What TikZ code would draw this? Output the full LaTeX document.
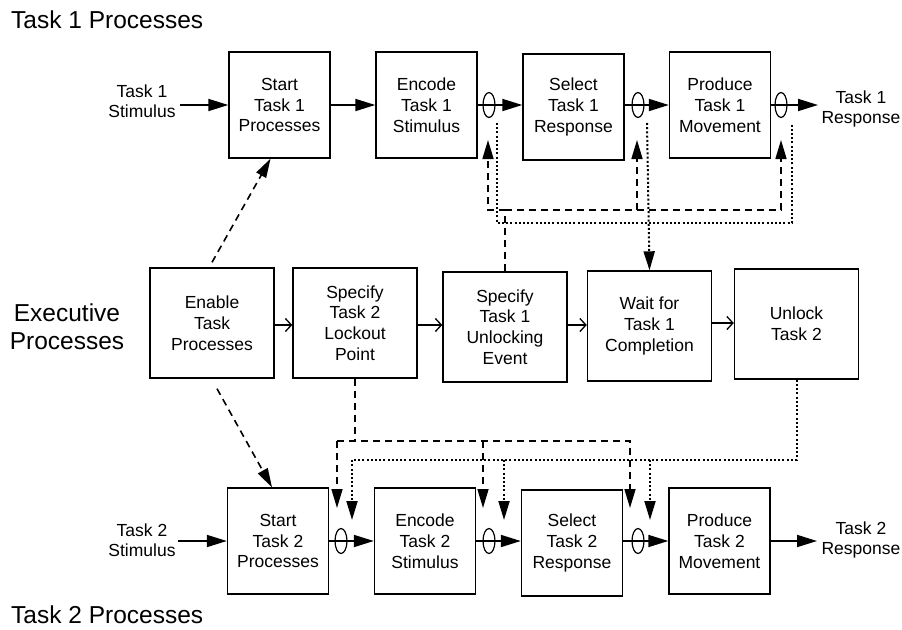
\documentclass[tikz,border=0pt]{standalone}
\usepackage{fontspec}
\setmainfont{Liberation Sans}
\usetikzlibrary{arrows.meta,shapes.geometric}
\begin{document}
\begin{tikzpicture}[x=1pt,y=-1pt,
  box/.style={draw,line width=1.4pt,inner sep=0pt,align=center,font=\fontsize{17.5}{20.8}\selectfont},
  tbox/.style={box,minimum width=101pt,minimum height=106pt},
  mbox/.style={box,minimum width=124pt,minimum height=110pt},
  lbl/.style={align=center,inner sep=0pt,font=\fontsize{17.5}{20.5}\selectfont},
  title/.style={inner sep=0pt,font=\fontsize{24.5}{28}\selectfont},
  latch/.style={draw,ellipse,line width=1.2pt,minimum width=12pt,minimum height=25pt,inner sep=0pt},
  main/.style={line width=1.8pt,-{Triangle[length=20pt,width=12pt]}},
  exe/.style={line width=1.3pt,-{Straight Barb[length=6pt,width=13pt]}},
  dsh/.style={line width=1.6pt,dash pattern=on 7pt off 5pt},
  dot/.style={line width=2pt,dash pattern=on 2pt off 2.2pt},
  tip/.style={-{Triangle[length=19pt,width=11pt]}}
]
\useasboundingbox (0,0) rectangle (902,629);

% titles
\node[title,anchor=base west] (t1) at (11,28) {Task 1 Processes};
\node[title,anchor=base west] (t2) at (11,623) {Task 2 Processes};
\node[title,align=center] (ex) at (67,327) {Executive\\Processes};

% Task 1 row
\node[tbox] (s1) at (279.5,105) {Start\\Task 1\\Processes};
\node[tbox] (e1) at (426.5,105) {Encode\\Task 1\\Stimulus};
\node[tbox] (r1) at (573.5,107) {Select\\Task 1\\Response};
\node[tbox] (p1) at (720,105) {Produce\\Task 1\\Movement};
\node[latch] (l1a) at (489,105) {};
\node[latch] (l1b) at (638,105) {};
\node[latch] (l1c) at (781,105) {};
\node[lbl] (st1) at (142,101) {Task 1\\Stimulus};
\node[lbl] (rs1) at (861,109) {Task 1\\Response};
\coordinate (st1e) at (180,105);
\coordinate (rs1w) at (818,105);

% Executive row
\node[mbox] (en) at (212,323) {Enable\\Task\\Processes};
\node[mbox] (sp2) at (355,323) {Specify\\Task 2\\Lockout\\Point};
\node[mbox] (sp1) at (505,327) {Specify\\Task 1\\Unlocking\\Event};
\node[mbox] (wt) at (649.5,326) {Wait for\\Task 1\\Completion};
\node[mbox] (un) at (796.5,324) {Unlock\\Task 2};

% Task 2 row
\node[tbox] (s2) at (278,541) {Start\\Task 2\\Processes};
\node[tbox] (e2) at (425,541) {Encode\\Task 2\\Stimulus};
\node[tbox] (r2) at (572,543) {Select\\Task 2\\Response};
\node[tbox] (p2) at (719.5,541) {Produce\\Task 2\\Movement};
\node[latch] (l2a) at (341,541) {};
\node[latch] (l2b) at (489,541) {};
\node[latch] (l2c) at (638,541) {};
\node[lbl] (st2) at (142,540) {Task 2\\Stimulus};
\node[lbl] (rs2) at (861,540) {Task 2\\Response};
\coordinate (st2e) at (178,541);
\coordinate (rs2w) at (817,541);

% main arrows task 1
\draw[main] (st1e) -- (s1.west);
\draw[main] (s1.east) -- (e1.west);
\draw[main] (e1.east) -- (e1.east -| r1.west);
\draw[main] (r1.east |- l1b) -- (p1.west);
\draw[main] (p1.east) -- (rs1w);

% main arrows task 2
\draw[main] (st2e) -- (s2.west);
\draw[main] (s2.east) -- (e2.west);
\draw[main] (e2.east) -- (e2.east -| r2.west);
\draw[main] (r2.east |- l2c) -- (p2.west);
\draw[main] (p2.east) -- (rs2w);

% executive arrows
\draw[exe] (en.east |- 0,325) -- (sp2.west |- 0,325);
\draw[exe] (sp2.east |- 0,325) -- (sp1.west |- 0,325);
\draw[exe] (sp1.east |- 0,325) -- (wt.west |- 0,325);
\draw[exe] (wt.east |- 0,323) -- (un.west |- 0,323);

% enable diagonals
\draw[dsh,tip] ([yshift=5pt]en.north) -- ([xshift=-9pt]s1.south);
\draw[dsh,tip] ([xshift=5pt,yshift=-10pt]en.south) -- ([xshift=-6pt]s2.north);

% top dashed bus from Specify Task 1 Unlocking Event
\coordinate (tdL) at (488,210);
\coordinate (tdM) at (637,210);
\coordinate (tdR) at (781,210);
\draw[dsh,tip] (sp1.north) |- (tdL) -- (488,140);
\draw[dsh,tip] (sp1.north |- tdL) -- (tdR) -- (781,140);
\draw[dsh,tip] (tdM) -- (637,140);

% top dotted bus to Wait for Task 1 Completion
\draw[dot] (497,123) |- (792,223) -- (792,123);
\draw[dot,tip] (647,123) -- (wt.north);

% bottom dashed bus from Specify Task 2 Lockout Point
\coordinate (bdL) at (337,441);
\coordinate (bdM) at (483,441);
\coordinate (bdR) at (630,441);
\draw[dsh] (sp2.south) -- (sp2.south |- bdL);
\draw[dsh,tip] (bdL) -- (337,508);
\draw[dsh,tip] (bdL) -- (bdR) -- (630,508);
\draw[dsh,tip] (bdM) -- (483,508);

% bottom dotted bus from Unlock Task 2
\coordinate (boL) at (352,460);
\coordinate (boM) at (504,460);
\coordinate (boR) at (650,460);
\draw[dot,tip] (un.south) |- (boL) -- (352,520);
\draw[dot,tip] (boM) -- (504,520);
\draw[dot,tip] (boR) -- (650,520);
\end{tikzpicture}
\end{document}
